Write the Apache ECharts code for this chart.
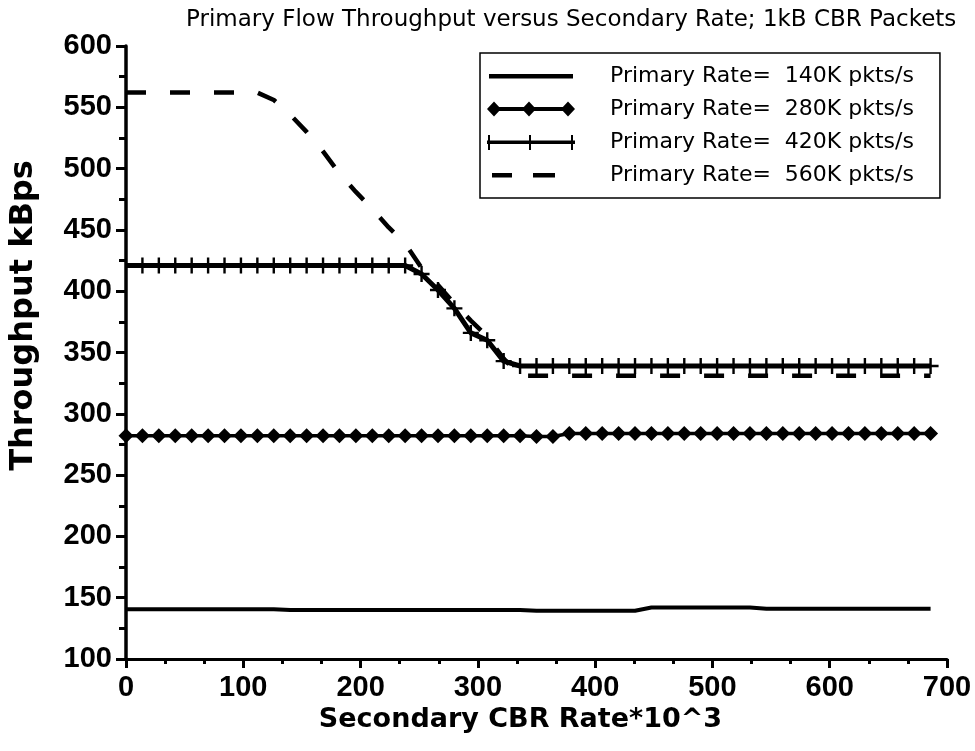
<!DOCTYPE html>
<html>
<head>
<meta charset="utf-8">
<script src="https://cdn.jsdelivr.net/npm/echarts@6/dist/echarts.min.js"></script>
<style>
  html, body { margin: 0; padding: 0; background: #fff; }
  #chart { width: 975px; height: 751px; }
</style>
</head>
<body>
<div id="chart"></div>
<script>
// secondary CBR rate (x), sampled every 14
const secondaryRate = [0, 14, 28, 42, 56, 70, 84, 98, 112, 126, 140, 154, 168, 182, 196, 210, 224, 238, 252, 266,
  280, 294, 308, 322, 336, 350, 364, 378, 392, 406, 420, 434, 448, 462, 476, 490, 504, 518, 532, 546,
  560, 574, 588, 602, 616, 630, 644, 658, 672, 686];

const rate140 = [140.5, 140.5, 140.5, 140.5, 140.5, 140.5, 140.5, 140.5, 140.5, 140.5,
  140, 140, 140, 140, 140, 140, 140, 140, 140, 140, 140, 140, 140, 140, 140,
  139.3, 139.3, 139.3, 139.3, 139.3, 139.3, 139.3,
  142, 142, 142, 142, 142, 142, 142,
  141, 141, 141, 141, 141, 141, 141, 141, 141, 141, 141];

const rate280 = [282, 282, 282, 282, 282, 282, 282, 282, 282, 282, 282, 282, 282, 282, 282, 282, 282, 282, 282, 282,
  282, 282, 282, 282, 282, 281.5, 281.5, 284, 284, 284, 284, 284, 284, 284, 284, 284, 284, 284, 284, 284,
  284, 284, 284, 284, 284, 284, 284, 284, 284, 284];

const rate420 = [421, 421, 421, 421, 421, 421, 421, 421, 421, 421, 421, 421, 421, 421, 421, 421, 421, 421, 414, 401,
  386, 366, 360, 343, 339, 339, 339, 339, 339, 339, 339, 339, 339, 339, 339, 339, 339, 339, 339, 339,
  339, 339, 339, 339, 339, 339, 339, 339, 339, 339];

const rate560 = [562, 562, 562, 562, 562, 562, 562, 562, 562, 556, 544, 530, 514, 496, 481, 467, 452, 439, 419, 405,
  390, 376, 363, 345, 331, 331, 331, 331, 331, 331, 331, 331, 331, 331, 331, 331, 331, 331, 331, 331,
  331, 331, 331, 331, 331, 331, 331, 331, 331, 331];

const seriesNames = ['Primary Rate=  140K pkts/s', 'Primary Rate=  280K pkts/s',
  'Primary Rate=  420K pkts/s', 'Primary Rate=  560K pkts/s'];

const xTicks = [0, 700, 100];
const yTicks = [100, 600, 50];

const plusPath = 'path://M6.8,0 L9.2,0 L9.2,6.8 L16,6.8 L16,9.2 L9.2,9.2 L9.2,16 L6.8,16 L6.8,9.2 L0,9.2 L0,6.8 L6.8,6.8 Z';

// legend icons, all drawn in a 88x16 box
const legendIcons = [
  'path://M0,0 L0,0 Z M88,16 L88,16 Z M2,6 L86,6 L86,10.5 L2,10.5 Z',
  'path://M0,8 L7,0.5 L14,8 L7,15.5 Z M35,8 L42,0.5 L49,8 L42,15.5 Z M74,8 L81,0.5 L88,8 L81,15.5 Z M7,6 L81,6 L81,10 L7,10 Z',
  'path://M0,6.5 L88,6.5 L88,10 L0,10 Z M1,1 L3,1 L3,16 L1,16 Z M42,1 L44,1 L44,16 L42,16 Z M84,1 L86,1 L86,16 L84,16 Z M0,0 L0,0 Z',
  'path://M0,0 L0,0 Z M88,16 L88,16 Z M5,6 L25,6 L25,10.5 L5,10.5 Z M46,6 L68,6 L68,10.5 L46,10.5 Z'
];

// first point sits on the y axis: no marker there
function pairs(ys, hideFirst) {
  return secondaryRate.map((x, i) => (hideFirst && i === 0) ? { value: [x, ys[i]], symbol: 'none' } : [x, ys[i]]);
}

const chart = echarts.init(document.getElementById('chart'), null, { renderer: 'canvas' });

const tickFont = { fontFamily: 'Liberation Sans', fontWeight: 'bold', fontSize: 29, color: '#000' };

const option = {
  animation: false,
  backgroundColor: '#fff',
  title: {
    text: 'Primary Flow Throughput versus Secondary Rate; 1kB CBR Packets',
    left: 181,
    top: 4,
    textStyle: { fontFamily: 'DejaVu Sans', fontWeight: 'normal', fontSize: 23, color: '#000' }
  },
  legend: {
    orient: 'vertical',
    left: 480,
    top: 53,
    padding: [12, 26, 12, 7],
    borderColor: '#000',
    borderWidth: 1.5,
    itemWidth: 88,
    itemHeight: 16,
    itemGap: 11,
    selectedMode: false,
    textStyle: { fontFamily: 'DejaVu Sans', fontSize: 22, color: '#000', lineHeight: 22, padding: [0, 0, 0, 30] },
    data: seriesNames.map((n, i) => ({ name: n, icon: legendIcons[i] }))
  },
  grid: { left: 126, right: 28, top: 46, bottom: 92 },
  xAxis: {
    type: 'value',
    min: xTicks[0], max: xTicks[1], interval: xTicks[2],
    name: 'Secondary CBR Rate*10^3',
    nameLocation: 'middle',
    nameGap: 36,
    nameTextStyle: { fontFamily: 'DejaVu Sans', fontWeight: 'bold', fontSize: 27, color: '#000', padding: [0, 32, 0, 0] },
    axisLine: { show: true, onZero: false, lineStyle: { color: '#000', width: 3 } },
    axisTick: { show: true, length: 9, lineStyle: { color: '#000', width: 3 } },
    minorTick: { show: true, splitNumber: 3, length: 5, lineStyle: { color: '#000', width: 3 } },
    splitLine: { show: false },
    axisLabel: Object.assign({ margin: 14 }, tickFont)
  },
  yAxis: {
    type: 'value',
    min: yTicks[0], max: yTicks[1], interval: yTicks[2],
    name: 'Throughput kBps',
    nameLocation: 'middle',
    nameGap: 86,
    nameTextStyle: { fontFamily: 'DejaVu Sans', fontWeight: 'bold', fontSize: 32, color: '#000', padding: [0, 0, 0, 74] },
    axisLine: { show: true, onZero: false, lineStyle: { color: '#000', width: 3.5 } },
    axisTick: { show: true, length: 10, lineStyle: { color: '#000', width: 3 } },
    minorTick: { show: true, splitNumber: 2, length: 7, lineStyle: { color: '#000', width: 3 } },
    splitLine: { show: false },
    axisLabel: Object.assign({ margin: 14 }, tickFont)
  },
  series: [
    {
      name: seriesNames[0], type: 'line', data: pairs(rate140),
      symbol: 'none', itemStyle: { color: '#000' },
      lineStyle: { color: '#000', width: 4 }
    },
    {
      name: seriesNames[1], type: 'line', data: pairs(rate280),
      symbol: 'diamond', symbolSize: 15, showAllSymbol: true,
      itemStyle: { color: '#000' },
      lineStyle: { color: '#000', width: 3.5 }
    },
    {
      name: seriesNames[2], type: 'line', data: pairs(rate420, true),
      symbol: plusPath, symbolSize: 16, showAllSymbol: true,
      itemStyle: { color: '#000' },
      lineStyle: { color: '#000', width: 5 }
    },
    {
      name: seriesNames[3], type: 'line', data: pairs(rate560),
      symbol: 'none', itemStyle: { color: '#000' },
      lineStyle: { color: '#000', width: 4.5, type: [20, 24], cap: 'butt' }
    }
  ]
};

chart.setOption(option);
window.addEventListener('resize', chart.resize);
</script>
</body>
</html>
